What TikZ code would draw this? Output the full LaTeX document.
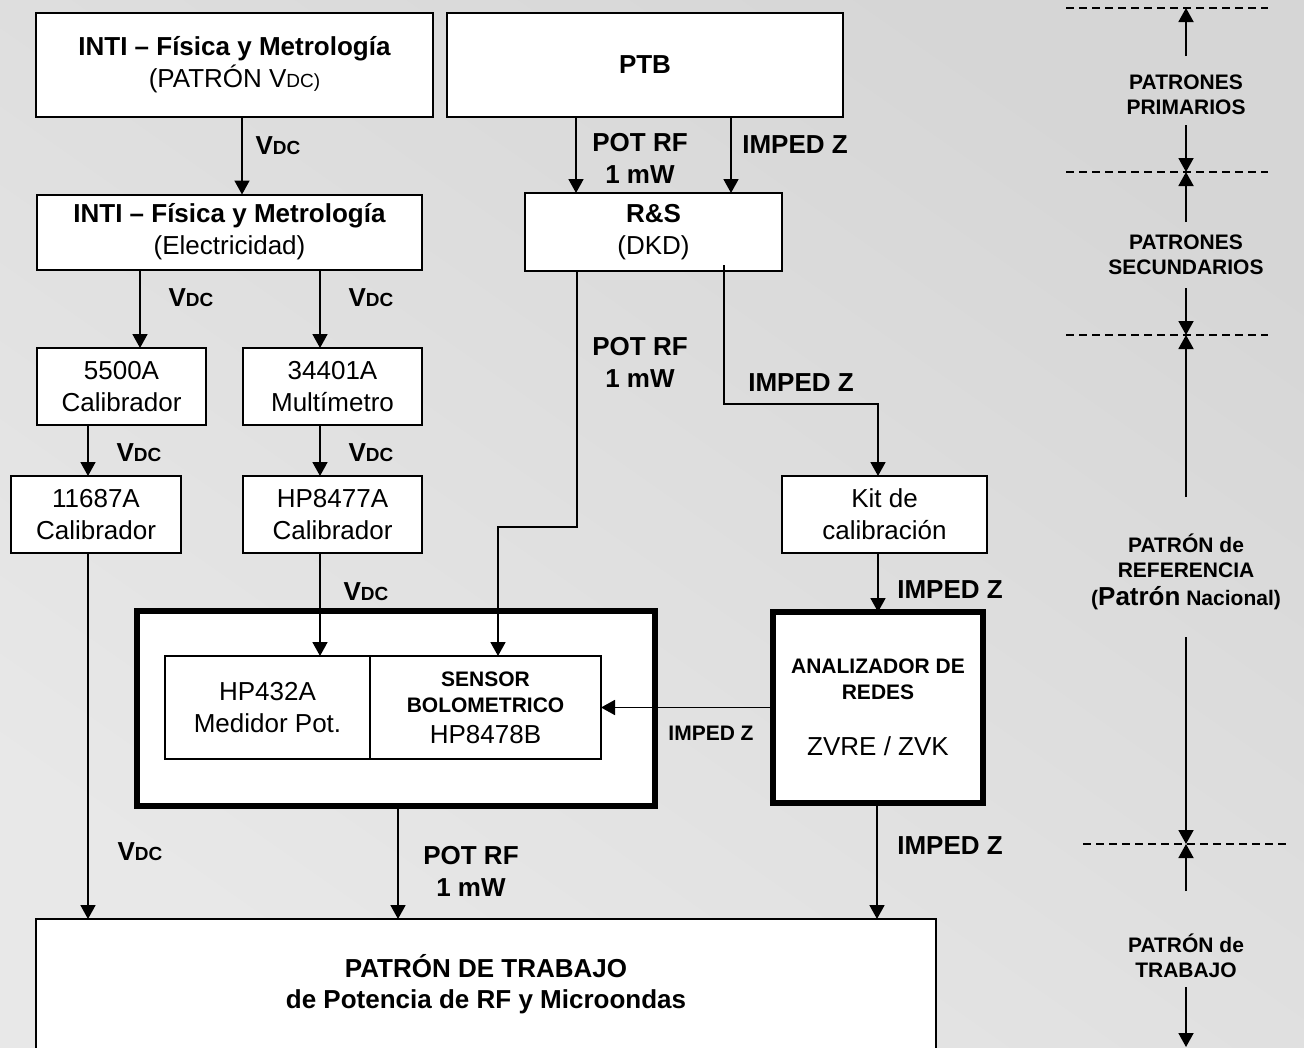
\documentclass[tikz,border=0pt]{standalone}
\usepackage{fontspec}
\setmainfont{Liberation Sans}
\usetikzlibrary{arrows.meta}
\newcommand\fsBig{\fontsize{26}{32}\selectfont}
\newcommand\fsMid{\fontsize{21}{25}\selectfont}
\newcommand\fsDC{\fontsize{19}{19}\selectfont}
\newcommand\Vdc{V{\fsDC DC}}
\definecolor{bgA}{RGB}{214,214,214}
\definecolor{bgB}{RGB}{232,232,232}
\begin{document}
\begin{tikzpicture}[x=1pt,y=-1pt,
  box/.style={draw=black, fill=white, line width=2pt, inner sep=0pt, outer sep=0pt, align=center, font=\fsBig},
  thickbox/.style={box, line width=6pt},
  arr/.style={line width=1.8pt, -{Triangle[length=14pt,width=15pt]}},
  wire/.style={line width=1.8pt},
  lbl/.style={font=\fsBig\bfseries, align=center, inner sep=0pt},
  slbl/.style={font=\fsMid\bfseries, align=center, inner sep=0pt},
  dashline/.style={line width=2pt, dash pattern=on 8pt off 5pt}]
\useasboundingbox (0,0) rectangle (1304,1047);
\clip (0,0) rectangle (1304,1047);
\shade[top color=bgA, bottom color=bgB, shading angle=-35] (0,0) rectangle (1304,1047);

% ---------- boxes ----------
\node[box, minimum width=397, minimum height=104] (intiA) at (234.5,65)
  {\textbf{INTI – Física y Metrología}\\(PATRÓN V{\fsDC DC)}};
\node[box, minimum width=396, minimum height=104, font=\fsBig\bfseries] (ptb) at (645,65) {PTB};
\node[box, minimum width=385, minimum height=75] (intiB) at (229.5,232)
  {\textbf{INTI – Física y Metrología}\\(Electricidad)};
\node[box, minimum width=257, minimum height=78] (rs) at (653.5,232)
  {\textbf{R\&S}\\(DKD)};
\node[box, minimum width=169, minimum height=77] (c5500) at (121.5,386.5) {5500A\\Calibrador};
\node[box, minimum width=179, minimum height=77] (c34401) at (332.5,386.5) {34401A\\Multímetro};
\node[box, minimum width=170, minimum height=77] (c11687) at (96,514.5) {11687A\\Calibrador};
\node[box, minimum width=179, minimum height=77] (c8477) at (332.5,514.5) {HP8477A\\Calibrador};
\node[box, minimum width=205, minimum height=77] (kit) at (884.5,514.5) {Kit de\\calibración};
\node[thickbox, minimum width=518, minimum height=195] (meter) at (396,708.5) {};
\node[box, minimum width=205, minimum height=103] (hp432) at (267.5,707.5) {HP432A\\Medidor Pot.};
\node[box, minimum width=231, minimum height=103] (sensor) at (485.5,707.5)
  {{\fsMid\bfseries SENSOR}\\[-6pt]{\fsMid\bfseries BOLOMETRICO}\\[-1pt]HP8478B};
\node[thickbox, minimum width=210, minimum height=191] (an) at (878,707.5)
  {{\fsMid\bfseries ANALIZADOR DE}\\[-6pt]{\fsMid\bfseries REDES}\\[24pt]ZVRE / ZVK};
\node[box, minimum width=900, minimum height=131] (work) at (486,984.5)
  {\textbf{PATRÓN DE TRABAJO}\\[-1pt]\textbf{de Potencia de RF y Microondas}};

% ---------- x positions ----------
\coordinate (xa) at (242,0);
\coordinate (xb1) at (140,0);
\coordinate (xb2) at (320,0);
\coordinate (xc1) at (88,0);
\coordinate (xp1) at (576,0);
\coordinate (xp2) at (731,0);
\coordinate (xw2) at (398,0);
\coordinate (xw3) at (877,0);
\coordinate (xk) at (878,0);
\coordinate (xs) at (498,0);
\coordinate (xr) at (724,0);
\coordinate (k1) at (577,527);
\coordinate (k2) at (498,527);
\coordinate (k3) at (724,404);
\coordinate (k4) at (878,404);

% ---------- connectors ----------
\draw[arr] (xa |- intiA.south) -- (xa |- intiB.north);
\draw[arr] (xp1 |- ptb.south) -- (xp1 |- rs.north);
\draw[arr] (xp2 |- ptb.south) -- (xp2 |- rs.north);
\draw[arr] (xb1 |- intiB.south) -- (xb1 |- c5500.north);
\draw[arr] (xb2 |- intiB.south) -- (xb2 |- c34401.north);
\draw[arr] (xc1 |- c5500.south) -- (xc1 |- c11687.north);
\draw[arr] (xb2 |- c34401.south) -- (xb2 |- c8477.north);
\draw[arr] (xb2 |- c8477.south) -- (xb2 |- hp432.north);
\draw[arr] (k1 |- rs.south) -- (k1) -- (k2) -- (xs |- sensor.north);
\draw[arr] ([yshift=6pt]xr |- rs.south) -- (k3) -- (k4) -- (xk |- kit.north);
\draw[arr] (xk |- kit.south) -- (xk |- an.north);
\draw[arr] (an.west) -- (sensor.east);
\draw[arr] (xc1 |- c11687.south) -- (xc1 |- work.north);
\draw[arr] (xw2 |- meter.south) -- (xw2 |- work.north);
\draw[arr] (xw3 |- an.south) -- (xw3 |- work.north);

% ---------- connector labels ----------
\node[lbl] (l1) at (278,146) {\Vdc};
\node[lbl] (l2) at (640,158) {POT RF\\1 mW};
\node[lbl] (l3) at (795,145) {IMPED Z};
\node[lbl] (l4) at (191,298) {\Vdc};
\node[lbl] (l5) at (371,298) {\Vdc};
\node[lbl] (l6) at (139,453) {\Vdc};
\node[lbl] (l7) at (371,453) {\Vdc};
\node[lbl] (l8) at (366,592) {\Vdc};
\node[lbl] (l9) at (640,362) {POT RF\\1 mW};
\node[lbl] (l10) at (801,383) {IMPED Z};
\node[lbl] (l11) at (950,590) {IMPED Z};
\node[slbl] (l12) at (711,733) {IMPED Z};
\node[lbl] (l13) at (140,852) {\Vdc};
\node[lbl] (l14) at (471,871) {POT RF\\1 mW};
\node[lbl] (l15) at (950,846) {IMPED Z};

% ---------- right-hand scale ----------
\coordinate (d1l) at (1066,8);   \coordinate (d1r) at (1268,8);
\coordinate (d2l) at (1066,172); \coordinate (d2r) at (1268,172);
\coordinate (d3l) at (1066,335); \coordinate (d3r) at (1268,335);
\coordinate (d4l) at (1083,844); \coordinate (d4r) at (1287,844);
\draw[dashline] (d1l) -- (d1r);
\draw[dashline] (d2l) -- (d2r);
\draw[dashline] (d3l) -- (d3r);
\draw[dashline] (d4l) -- (d4r);

\node[slbl] (prim) at (1186,95) {PATRONES\\PRIMARIOS};
\node[slbl] (sec) at (1186,255) {PATRONES\\SECUNDARIOS};
\node[slbl] (ref) at (1186,572) {PATRÓN de\\REFERENCIA\\[3pt]({\fsBig Patrón} Nacional)};
\node[slbl] (trab) at (1186,956) {PATRÓN de\\TRABAJO};

\coordinate (m1) at (1186,8);
\coordinate (m2) at (1186,172);
\coordinate (m3) at (1186,335);
\coordinate (m4) at (1186,844);
\coordinate (m5) at (1186,1047);
\coordinate (a1) at (1186,56);
\coordinate (a2) at (1186,125);
\coordinate (a3) at (1186,222);
\coordinate (a4) at (1186,288);
\coordinate (a5) at (1186,497);
\coordinate (a6) at (1186,637);
\coordinate (a7) at (1186,891);
\coordinate (a8) at (1186,987);
\draw[arr] (a1) -- (m1);
\draw[arr] (a2) -- (m2);
\draw[arr] (a3) -- (m2);
\draw[arr] (a4) -- (m3);
\draw[arr] (a5) -- (m3);
\draw[arr] (a6) -- (m4);
\draw[arr] (a7) -- (m4);
\draw[arr] (a8) -- (m5);
\end{tikzpicture}
\end{document}
